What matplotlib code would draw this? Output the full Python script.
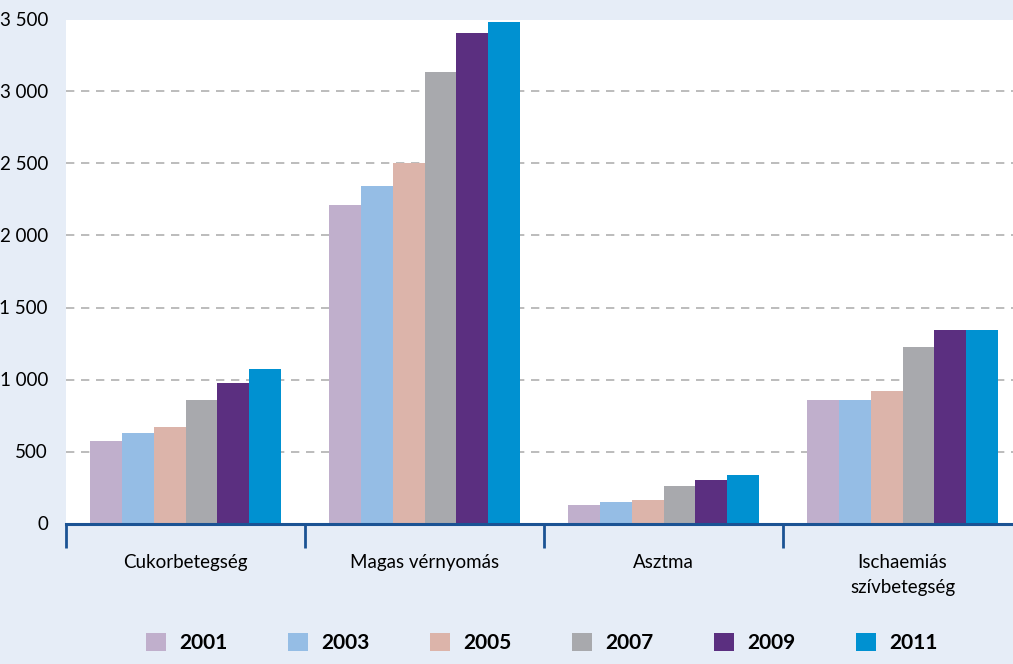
import numpy as np
import matplotlib
matplotlib.use('Agg')
import matplotlib.pyplot as plt
from matplotlib.patches import Patch
from matplotlib.ticker import FuncFormatter

plt.rcParams['font.family'] = ['Lato', 'DejaVu Sans']

# data
categories = ['Cukorbetegség', 'Magas vérnyomás', 'Asztma', 'Ischaemiás\nszívbetegség']
years = ['2001', '2003', '2005', '2007', '2009', '2011']
v2001 = [573, 2212, 128, 858]
v2003 = [628, 2344, 149, 858]
v2005 = [670, 2503, 163, 920]
v2007 = [858, 3135, 260, 1226]
v2009 = [976, 3406, 302, 1344]
v2011 = [1073, 3483, 337, 1344]
series = [v2001, v2003, v2005, v2007, v2009, v2011]
colors = ['#c0afcc', '#95bde5', '#dcb4aa', '#a8a9ad', '#5b2f80', '#0091d1']

bg = '#e6edf7'
axcol = '#1b5394'

fig = plt.figure(figsize=(10.13, 6.64), dpi=100, facecolor=bg)
ax = fig.add_axes([66/1013, (664-523.5)/664, 956/1013, 504/664])
ax.set_facecolor('white')

x = np.arange(len(categories))
w = 0.8/len(years)
for i, (vals, c) in enumerate(zip(series, colors)):
    ax.bar(x - 0.4 + w*(i+0.5), vals, width=w, color=c, zorder=3)

ax.set_xlim(-0.5, len(categories)-0.5)
ax.set_ylim(0, 3500)
ax.set_yticks(np.arange(0, 3501, 500))
ax.yaxis.set_major_formatter(FuncFormatter(lambda v, p: f'{int(v):,}'.replace(',', ' ')))
ax.tick_params(axis='y', length=0, pad=13, labelsize=13.5)
for yv in np.arange(500, 3500, 500):
    ax.axhline(yv, color='#b0b0b0', lw=1.2, ls=(0, (5, 4)), zorder=1)

for s in ['top', 'right', 'left']:
    ax.spines[s].set_visible(False)
ax.spines['bottom'].set_color(axcol)
ax.spines['bottom'].set_linewidth(2.2)
ax.spines['bottom'].set_zorder(4)

ax.set_xticks(x)
ax.set_xticklabels(categories, fontsize=13.5, linespacing=1.55, va='top')
ax.tick_params(axis='x', which='major', length=0, pad=22)
ax.set_xticks(np.arange(-0.5, len(categories)), minor=True)
ax.tick_params(axis='x', which='minor', length=17, width=2, color=axcol, direction='out')

handles = [Patch(facecolor=c, edgecolor='none') for c in colors]
fig.legend(handles, years, loc='center', bbox_to_anchor=(542/1013, 1-643/664), ncol=6,
           frameon=False, prop={'weight': 'bold', 'size': 15}, handlelength=0.95,
           handleheight=0.95, handletextpad=0.65, columnspacing=2.9)

fig.savefig('out.png', dpi=100, facecolor=bg)
